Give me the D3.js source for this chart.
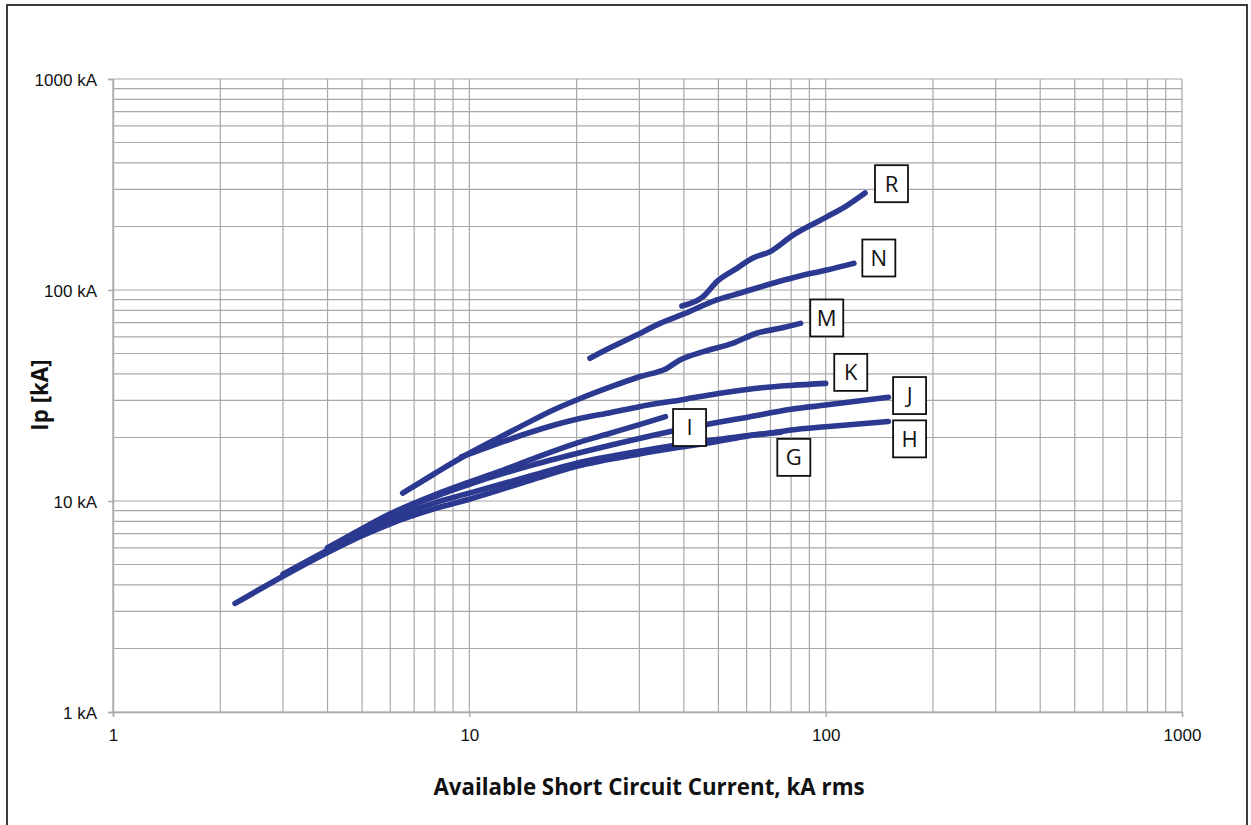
<!DOCTYPE html>
<html>
<head>
<meta charset="utf-8">
<script src="https://cdn.jsdelivr.net/npm/d3@7"></script>
<style>
  html, body { margin: 0; padding: 0; background: #fff; }
  svg { display: block; }
</style>
</head>
<body>
<svg id="chart" width="1251" height="825"></svg>
<script>
// ---- Data ----
const xTickValues = [1, 10, 100, 1000];
const xTickLabels = ["1", "10", "100", "1000"];
const yTickValues = [1, 10, 100, 1000];
const yTickLabels = ["1 kA", "10 kA", "100 kA", "1000 kA"];

const seriesNames = ["H", "G", "J", "I", "K", "M", "N", "R"];
const seriesH = [[2.2,3.27],[3,4.4],[4,5.7],[5,6.85],[6,7.8],[8,9.2],[10,10.2],[15,12.6],[20,14.6],[30,16.7],[40,18.1],[50,19.2],[60,20.3],[70,21.0],[80,21.7],[100,22.5],[150,23.8]];
const seriesG = [[3,4.5],[4,5.85],[5,7.1],[6,8.2],[8,9.8],[10,10.9],[15,13.2],[20,15.1],[30,17.2],[40,18.6],[50,19.6],[60,20.4],[75,21.2]];
const seriesJ = [[4,5.95],[5,7.3],[6,8.6],[8,10.5],[10,12.0],[15,14.8],[20,16.8],[30,19.8],[40,22.0],[50,23.6],[60,24.9],[80,27.2],[100,28.5],[150,31.0]];
const seriesI = [[4,6.0],[5,7.4],[6,8.7],[8,10.7],[10,12.3],[12,13.7],[15,15.8],[20,18.8],[25,21.0],[30,23.0],[35.5,25.1]];
const seriesK = [[9.5,16.2],[12,18.7],[15,21.3],[20,24.4],[25,26.3],[30,28.0],[40,30.3],[50,32.3],[65,34.3],[80,35.3],[100,36.1]];
const seriesM = [[6.5,10.9],[8,13.5],[9.6,16.2],[12,19.8],[13.9,22.5],[17.2,27.0],[20,30.1],[25,34.8],[30,38.8],[35.8,42.5],[39,46.6],[45.4,51.0],[55,56.0],[64,62.4],[75,66.0],[85,69.5]];
const seriesN = [[21.8,47.5],[25,53.5],[29.5,61.2],[34.3,69.5],[40,77],[49.5,89.7],[58,97],[68.3,105.6],[83,115.6],[100,124],[120,133.8]];
const seriesR = [[39.5,84],[45.3,93],[49.5,109.5],[56,126],[62.5,141.8],[69.8,152],[81,182],[100.7,222],[115,252],[129,288]];

const labelNames = ["R", "N", "M", "K", "J", "I", "H", "G"];
const labelX = [153, 141, 100.7, 117.6, 172, 41.5, 172, 81.4];
const labelY = [319, 141.8, 73.7, 40.7, 31.6, 22.3, 19.7, 16.1];

const xTitle = "Available Short Circuit Current, kA rms";
const yTitle = "Ip [kA]";

// ---- Drawing ----
const svg = d3.select("#chart");
const x = d3.scaleLog().domain([1, 1000]).range([113, 1182]);
const y = d3.scaleLog().domain([1, 1000]).range([712, 79]);

// outer frame
svg.append("rect")
  .attr("x", 7).attr("y", 5).attr("width", 1240).attr("height", 840)
  .attr("fill", "none").attr("stroke", "#3a3a3a").attr("stroke-width", 2);

const gridColor = "#a8a8a8";
const grid = svg.append("g");
grid.selectAll("line.vx").data(x.ticks()).enter().append("line")
  .attr("x1", d => x(d)).attr("x2", d => x(d))
  .attr("y1", y(1)).attr("y2", y(1000))
  .attr("stroke", gridColor).attr("stroke-width", 1.2);
grid.selectAll("line.hy").data(y.ticks()).enter().append("line")
  .attr("y1", d => y(d)).attr("y2", d => y(d))
  .attr("x1", x(1)).attr("x2", x(1000))
  .attr("stroke", gridColor).attr("stroke-width", 1.2);

// axes
const xAxis = d3.axisBottom(x).tickValues(xTickValues)
  .tickFormat((d, i) => xTickLabels[i]).tickSize(5).tickPadding(12);
const yAxis = d3.axisLeft(y).tickValues(yTickValues)
  .tickFormat((d, i) => yTickLabels[i]).tickSize(5).tickPadding(11);

const gx = svg.append("g").attr("transform", `translate(0,${y(1)})`).call(xAxis);
const gy = svg.append("g").attr("transform", `translate(${x(1)},0)`).call(yAxis);
[gx, gy].forEach(g => {
  g.select(".domain").attr("stroke", gridColor).attr("stroke-width", 1.4);
  g.selectAll(".tick line").attr("stroke", gridColor).attr("stroke-width", 1.4);
  g.selectAll(".tick text")
    .attr("fill", "#111")
    .style("font-family", "'Liberation Sans', Arial, sans-serif")
    .style("font-size", "17px");
});
gy.selectAll(".tick text").attr("dy", "0.36em");

// curves
const allSeries = [seriesH, seriesG, seriesJ, seriesI, seriesK, seriesM, seriesN, seriesR];
const line = d3.line().x(d => x(d[0])).y(d => y(d[1])).curve(d3.curveMonotoneX);
svg.append("g").selectAll("path").data(allSeries).enter().append("path")
  .attr("d", line)
  .attr("fill", "none")
  .attr("stroke", "#2b3990")
  .attr("stroke-width", 5.6)
  .attr("stroke-linecap", "round")
  .attr("stroke-linejoin", "round");

// label boxes
const boxW = 33, boxH = 37;
const lab = svg.append("g").selectAll("g").data(labelNames).enter().append("g")
  .attr("transform", (d, i) => `translate(${x(labelX[i])},${y(labelY[i])})`);
lab.append("rect")
  .attr("x", -boxW / 2).attr("y", -boxH / 2).attr("width", boxW).attr("height", boxH)
  .attr("fill", "#fff").attr("stroke", "#111").attr("stroke-width", 1.8);
lab.append("text")
  .attr("text-anchor", "middle").attr("dy", "0.36em")
  .style("font-family", "'Open Sans', 'Noto Sans', sans-serif")
  .style("font-size", "22px").attr("fill", "#111")
  .text(d => d);

// axis titles
svg.append("text")
  .attr("x", 649).attr("y", 795).attr("text-anchor", "middle")
  .style("font-family", "'Open Sans', 'Noto Sans', sans-serif")
  .style("font-weight", "bold").style("font-size", "22.3px").attr("fill", "#111")
  .text(xTitle);
svg.append("text")
  .attr("transform", "translate(48,395) rotate(-90)")
  .attr("text-anchor", "middle")
  .style("font-family", "'Open Sans', 'Noto Sans', sans-serif")
  .style("font-weight", "bold").style("font-size", "22.3px").attr("fill", "#111")
  .text(yTitle);
</script>
</body>
</html>
